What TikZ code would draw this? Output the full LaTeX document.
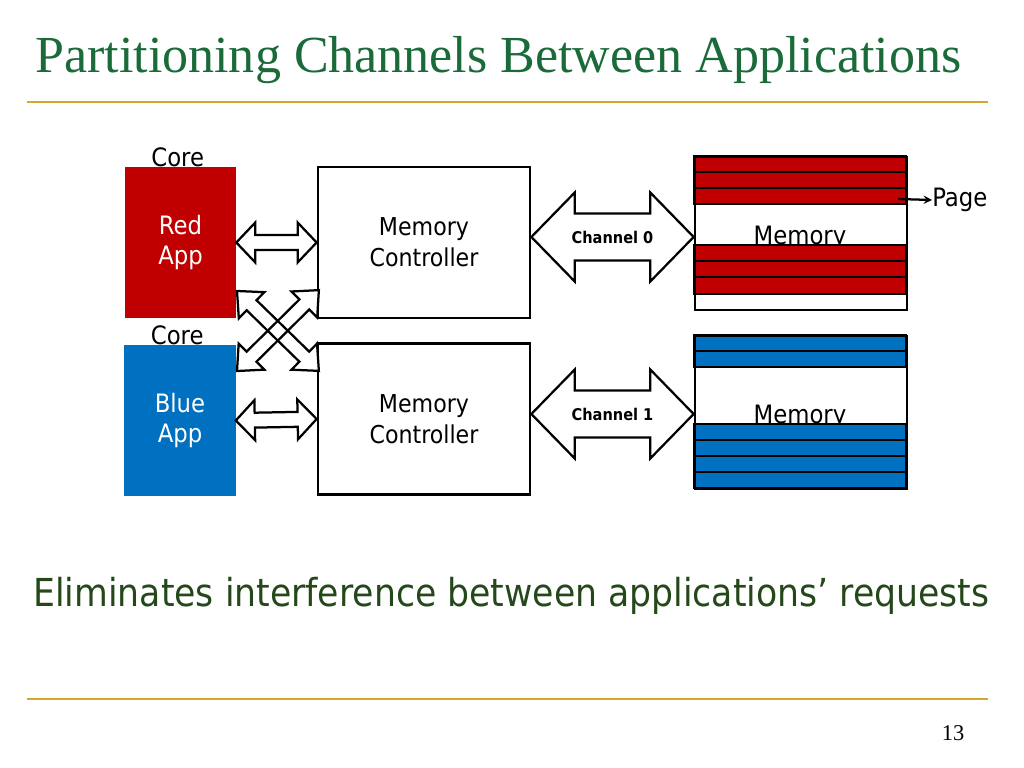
\documentclass[tikz,border=0pt]{standalone}
\usepackage{fontspec}
\usetikzlibrary{positioning,calc}
\setmainfont{DejaVu Sans Condensed}
\newfontfamily\titlefont{Liberation Serif}

\definecolor{titlegreen}{RGB}{27,107,58}
\definecolor{textgreen}{RGB}{36,72,26}
\definecolor{rulegold}{RGB}{212,168,42}
\definecolor{appred}{RGB}{192,0,0}
\definecolor{appblue}{RGB}{0,112,192}

\tikzset{
  core/.style={minimum width=2.775cm, minimum height=3.775cm, inner sep=0pt,
    text=white, align=center, font=\fontsize{18}{22}\selectfont},
  ctrl/.style={draw=black, line width=1.9pt, fill=white, minimum width=5.3cm,
    minimum height=3.775cm, align=center, font=\fontsize{17.5}{22}\selectfont},
  memframe/.style={draw=black, line width=1.9pt, minimum width=5.3cm, minimum height=3.825cm},
  label/.style={inner sep=0pt, font=\fontsize{18}{22}\selectfont},
  barrow/.style={draw=black, fill=white, line width=1.6pt, line join=miter},
  barfill/.style={fill=white},
  barline/.style={draw=black, line width=1.6pt, line join=miter},
  stripe/.style={draw=black, line width=1.4pt}
}

% double block arrow between two tips: #3 shaft half, #4 head half, #5 head length (pt)
\newcommand{\blockarrow}[6][barrow]{%
  \path let \p1=(#2), \p2=(#3) in
    \pgfextra{\pgfmathsetmacro\tmpang{atan2(\y2-\y1,\x2-\x1)}%
              \pgfmathsetmacro\tmplen{veclen(\x2-\x1,\y2-\y1)}%
              \xdef\barang{\tmpang}\xdef\barlen{\tmplen}};
  \begin{scope}[shift={(#2)}, rotate=\barang]
    \path[#1] (0pt,0pt) -- (#6pt,#5pt) -- (#6pt,#4pt) -- (\barlen pt-#6pt,#4pt)
      -- (\barlen pt-#6pt,#5pt) -- (\barlen pt,0pt) -- (\barlen pt-#6pt,-#5pt)
      -- (\barlen pt-#6pt,-#4pt) -- (#6pt,-#4pt) -- (#6pt,-#5pt) -- cycle;
  \end{scope}}

\begin{document}
\begin{tikzpicture}[x=0.025cm, y=-0.025cm]
    \useasboundingbox (0,0) rectangle (1024,768);

    % title and rules
    \node [anchor=base west, inner sep=0pt, text=titlegreen,
      font=\titlefont\fontsize{37}{42}\selectfont] (title) at (35,73)
      {Partitioning Channels Between Applications};
    \draw [rulegold, line width=1.5pt] (27,102) -- (988,102);
    \draw [rulegold, line width=1.5pt] (27,699) -- (988,699);
    \node [font=\titlefont\fontsize{16}{18}\selectfont] (pagenum) at (953,733) {13};

    % cores
    \node [core, fill=appred] (red) at (180.5,242.5) {Red\\App};
    \node [core, fill=appblue] (blue) at (180,420.5) {Blue\\App};
    \node [label, above=0pt of red, xshift=-2pt] (corea) {Core};
    \node [label, above=0pt of blue, xshift=-2pt] (coreb) {Core};

    % memory controllers
    \node [ctrl] (mc0) at (424,242.5) {Memory\\Controller};
    \node [ctrl] (mc1) at (424,419) {Memory\\Controller};

    % memories with pages
    \node [memframe] (mem0) at (801,233.5) {};
    \node [memframe] (mem1) at (801,412.5) {};
    \node [label, anchor=base] (memtext0) at (800,244.5) {Memory};
    \node [label, anchor=base] (memtext1) at (800,423.5) {Memory};
    \foreach \i in {0,1,2} {
      \draw [stripe, fill=appred] ($(mem0.north west)+(0,\i*16.2)$) rectangle ++(212,16.2);
      \draw [stripe, fill=appred] ($(mem0.north west)+(0,89.4+\i*16.2)$) rectangle ++(212,16.2);
    }
    \foreach \i in {0,1} {
      \draw [stripe, fill=appblue] ($(mem1.north west)+(0,\i*16.2)$) rectangle ++(212,16.2);
    }
    \foreach \i in {0,1,2,3} {
      \draw [stripe, fill=appblue] ($(mem1.north west)+(0,89+\i*16.1)$) rectangle ++(212,16.1);
    }
    \node [memframe] at (mem0) {};
    \node [memframe] at (mem1) {};

    \node [label, anchor=west] (page) at (932,200) {Page};
    \coordinate (pagefrom) at (898,199);
    \draw [->, >=stealth, line width=1.6pt] (pagefrom) -- (page.west);

    % core to controller arrows
    \blockarrow{red.east}{mc0.west}{5.3}{14.2}{13.5}
    \blockarrow{blue.east}{mc1.west}{5.3}{14.2}{13.5}
    \coordinate (xa) at (237,291);
    \coordinate (xb) at (319,371);
    \coordinate (xc) at (237,371);
    \coordinate (xd) at (319,290);
    \blockarrow[barfill]{xa}{xb}{5}{13}{14.5}
    \blockarrow[barfill]{xc}{xd}{5}{13}{14.5}
    \blockarrow[barline]{xa}{xb}{5}{13}{14.5}
    \blockarrow[barline]{xc}{xd}{5}{13}{14.5}

    % channels
    \coordinate (ch0a) at (mc0.east |- 0,237);
    \coordinate (ch0b) at (mem0.west |- 0,237);
    \coordinate (ch1a) at (mc1.east |- 0,414);
    \coordinate (ch1b) at (mem1.west |- 0,414);
    \blockarrow{ch0a}{ch0b}{16.7}{31.7}{30.9}
    \blockarrow{ch1a}{ch1b}{16.7}{31.7}{30.9}
    \node [font=\bfseries\fontsize{11.5}{14}\selectfont] (chan0) at ($(ch0a)!0.5!(ch0b)$) {Channel 0};
    \node [font=\bfseries\fontsize{11.5}{14}\selectfont] (chan1) at ($(ch1a)!0.5!(ch1b)$) {Channel 1};

    % message
    \node [anchor=base west, inner sep=0pt, text=textgreen,
      font=\fontsize{27.4}{32}\selectfont] (msg) at (33,606)
      {Eliminates interference between applications’ requests};
\end{tikzpicture}
\end{document}
